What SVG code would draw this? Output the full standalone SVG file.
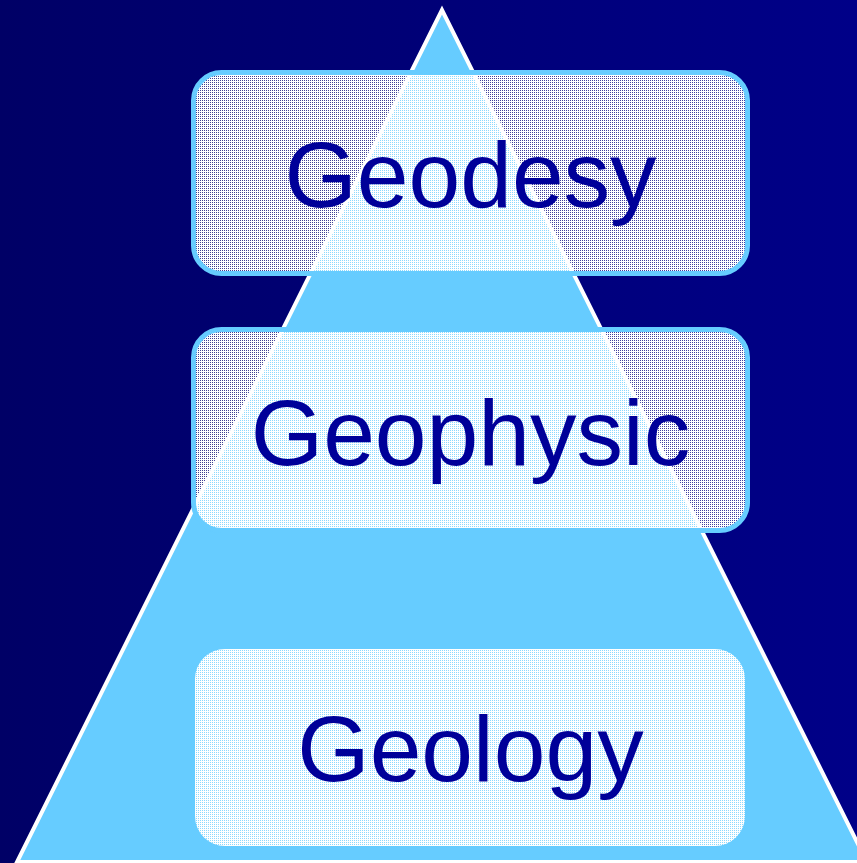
<svg xmlns="http://www.w3.org/2000/svg" width="857" height="863" viewBox="0 0 857 863">
<defs>
<linearGradient id="bg" x1="0" y1="0" x2="1" y2="0">
<stop offset="0" stop-color="#000066"/>
<stop offset="1" stop-color="#000088"/>
</linearGradient>
<pattern id="dith" width="2" height="2" patternUnits="userSpaceOnUse">
<path d="M1 0h1v2h-2v-1h1z" fill="#ffffff"/>
<rect x="0" y="0" width="1" height="1" fill="#ffffff" fill-opacity="0.25"/>
</pattern>
</defs>
<style>
.box{fill:url(#dith);}
.edge{stroke:#66ccff;stroke-width:5;}
.lbl{font-family:"Liberation Sans",Arial,sans-serif;font-size:93px;fill:#000099;text-anchor:middle;}
</style>
<rect x="0" y="0" width="857" height="863" fill="url(#bg)"/>
<polygon id="pyramid" points="442,10 17,862 867,862" fill="#66ccff" stroke="#ffffff" stroke-width="4" stroke-linejoin="miter"/>
<g id="connectors"></g>
<g id="geodesy">
<rect class="box edge" x="193.5" y="72.5" width="554" height="201" rx="28"/>
<text class="lbl" x="470.5" y="207">Geodesy</text>
</g>
<g id="geophysic">
<rect class="box edge" x="193.5" y="329.5" width="554" height="201" rx="28"/>
<text class="lbl" x="470.5" y="465">Geophysic</text>
</g>
<g id="geology">
<rect class="box" x="195" y="649" width="550" height="197" rx="30"/>
<text class="lbl" x="470.5" y="781">Geology</text>
</g>
</svg>
